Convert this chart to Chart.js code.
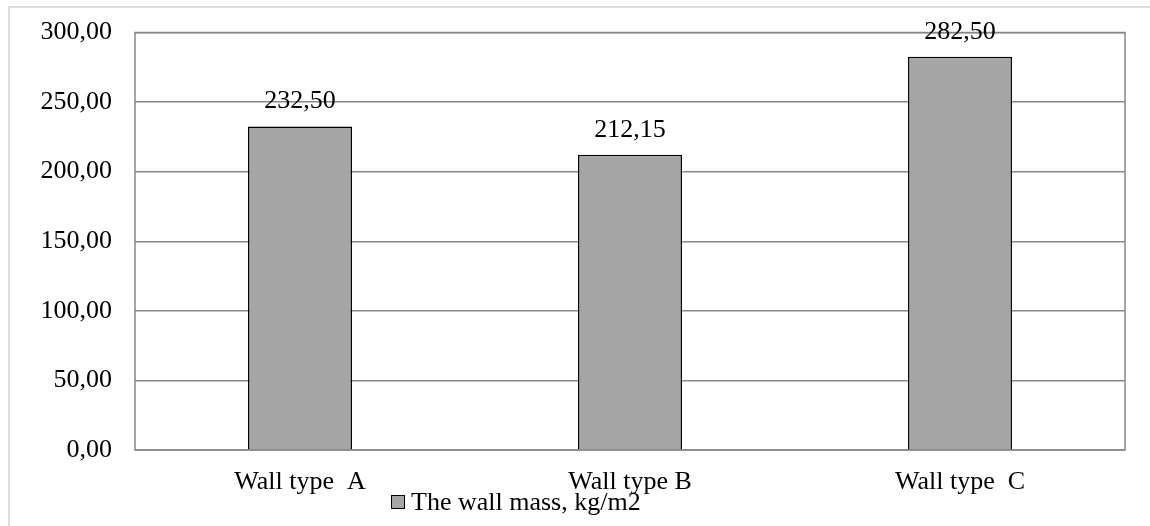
<!DOCTYPE html>
<html>
<head>
<meta charset="utf-8">
<script src="https://cdn.jsdelivr.net/npm/chart.js@4/dist/chart.umd.min.js"></script>
<style>
  html, body { margin: 0; padding: 0; background: #fff; overflow: hidden; }
  #frame { position: absolute; left: 8px; top: 6px; width: 1160px; height: 540px;
           border-left: 2px solid #dcdcdc; border-top: 2px solid #dcdcdc; }
  #wrap { position: absolute; left: 0; top: 0; width: 1150px; height: 526px; }
</style>
</head>
<body>
<div id="frame"></div>
<div id="wrap"><canvas id="grafico"></canvas></div>
<script>
// dados do gráfico
const categorias = ['Wall type  A', 'Wall type B', 'Wall type  C'];
const massaParede = [232.50, 212.15, 282.50];
const rotuloSerie = 'The wall mass, kg/m2';
const ticksY = [0, 50, 100, 150, 200, 250, 300];

const fonte = "'Liberation Serif', 'Times New Roman', serif";
const corBarra = '#a6a6a6';
const corGrade = '#878787';

function virgula(v) {
    return v.toFixed(2).replace('.', ',');
}

// moldura da área do gráfico
const moldura = {
    id: 'moldura',
    beforeDatasetsDraw(chart) {
        const a = chart.chartArea, ctx = chart.ctx;
        ctx.save();
        ctx.strokeStyle = corGrade;
        ctx.lineWidth = 1.5;
        ctx.strokeRect(a.left, a.top, a.right - a.left, a.bottom - a.top);
        ctx.restore();
    }
};

// valores acima das barras
const rotulos = {
    id: 'rotulos',
    afterDatasetsDraw(chart) {
        const ctx = chart.ctx;
        const meta = chart.getDatasetMeta(0);
        ctx.save();
        ctx.font = '26px ' + fonte;
        ctx.fillStyle = '#000';
        ctx.textAlign = 'center';
        ctx.textBaseline = 'middle';
        meta.data.forEach((bar, i) => {
            ctx.fillText(virgula(chart.data.datasets[0].data[i]), bar.x, bar.y - 25);
        });
        ctx.restore();
    }
};

// legenda desenhada à mão (fica sobre os rótulos do eixo, como no original)
const legenda = {
    id: 'legenda',
    afterDraw(chart) {
        const ctx = chart.ctx;
        const ds = chart.data.datasets[0];
        const x = 391, y = 502;
        ctx.save();
        ctx.fillStyle = ds.backgroundColor;
        ctx.fillRect(x, y - 7, 14, 14);
        ctx.strokeStyle = '#000';
        ctx.lineWidth = 1;
        ctx.strokeRect(x + 0.5, y - 6.5, 13, 13);
        ctx.fillStyle = '#000';
        ctx.font = '26px ' + fonte;
        ctx.textBaseline = 'middle';
        ctx.fillText(ds.label, x + 20, y + 1);
        ctx.restore();
    }
};

new Chart(document.getElementById('grafico'), {
    type: 'bar',
    data: {
        labels: categorias,
        datasets: [{
            label: rotuloSerie,
            data: massaParede,
            backgroundColor: corBarra,
            borderColor: '#000',
            borderWidth: 1.5,
            categoryPercentage: 1,
            barPercentage: 0.315
        }]
    },
    options: {
        responsive: true,
        maintainAspectRatio: false,
        animation: false,
        layout: { padding: { top: 32.5, right: 25, bottom: 0, left: 0 } },
        plugins: {
            legend: { display: false },
            tooltip: { enabled: false }
        },
        scales: {
            x: {
                grid: { display: false },
                border: { display: false },
                ticks: {
                    color: '#000',
                    font: { family: fonte, size: 26 },
                    padding: 9,
                    maxRotation: 0
                },
                afterFit(scale) { scale.height = 76; }
            },
            y: {
                min: 0,
                max: 300,
                afterBuildTicks(scale) { scale.ticks = ticksY.map(v => ({ value: v })); },
                grid: { color: corGrade, lineWidth: 1.5, drawTicks: false },
                border: { display: false },
                ticks: {
                    color: '#000',
                    font: { family: fonte, size: 26 },
                    padding: 23,
                    callback: v => virgula(v)
                },
                afterFit(scale) {
                    scale.width = 135;
                    scale.paddingTop = 0;
                    scale.paddingBottom = 0;
                }
            }
        }
    },
    plugins: [moldura, rotulos, legenda]
});
</script>
</body>
</html>
